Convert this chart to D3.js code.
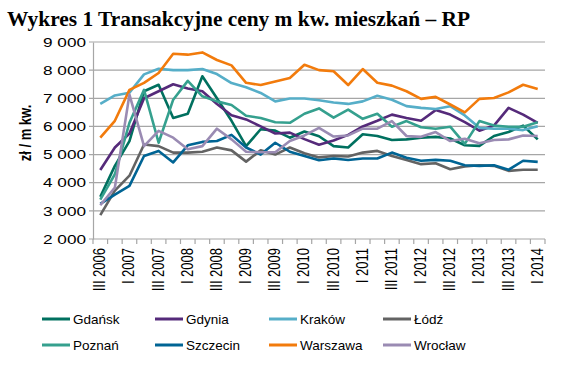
<!DOCTYPE html>
<html><head><meta charset="utf-8">
<script src="https://cdn.jsdelivr.net/npm/d3@7"></script>
<style>
body{margin:0;background:#fff;}
svg{display:block;}
</style>
</head><body>
<svg id="chart" width="571" height="365"></svg>
<script>
const title = "Wykres 1 Transakcyjne ceny m kw. mieszkań – RP";
const yAxisTitle = "zł / m kw.";
const categories = ["III 2006","IV 2006","I 2007","II 2007","III 2007","IV 2007","I 2008","II 2008","III 2008","IV 2008","I 2009","II 2009","III 2009","IV 2009","I 2010","II 2010","III 2010","IV 2010","I 2011","II 2011","III 2011","IV 2011","I 2012","II 2012","III 2012","IV 2012","I 2013","II 2013","III 2013","IV 2013","I 2014"];
const tickLabels = ["III 2006","I 2007","III 2007","I 2008","III 2008","I 2009","III 2009","I 2010","III 2010","I 2011","III 2011","I 2012","III 2012","I 2013","III 2013","I 2014"];
const yTicks = [2000,3000,4000,5000,6000,7000,8000,9000];

const cityNames = ["Gdańsk","Gdynia","Kraków","Łódź","Poznań","Szczecin","Warszawa","Wrocław"];
const cityColors = ["#00705F","#552A7A","#56AEC8","#636363","#35A08E","#006494","#F27B0C","#9A8BB3"];

const gdansk   = [3500,4600,5480,7250,7480,6300,6450,7780,7000,6200,5300,5900,5850,5600,5820,5650,5300,5250,5720,5660,5520,5540,5600,5630,5570,5330,5310,5660,5800,6030,5540];
const gdynia   = [4450,5250,5750,7000,7250,7500,7350,7250,6800,6400,6250,6000,5750,5780,5550,5350,5500,5700,6000,6200,6420,6300,6200,6580,6420,6150,5850,6030,6660,6420,6130];
const krakow   = [6800,7100,7200,7850,8050,8000,8000,8040,7860,7540,7390,7190,6890,6990,6990,6930,6850,6800,6890,7090,6950,6720,6660,6620,6720,6390,5950,5920,5920,5870,6010];
const lodz     = [2850,3720,4250,5360,5300,5070,5070,5100,5250,5150,4750,5150,5000,5250,5050,4900,4950,4930,5070,5130,4950,4810,4660,4690,4480,4580,4620,4600,4420,4460,4460];
const poznan   = [3400,4300,6130,7300,5420,6950,7620,7070,6890,6760,6380,6300,6150,6130,6450,6640,6310,6600,6270,6450,5990,6190,5970,5920,5990,5380,6190,6030,5990,5990,6150];
const szczecin = [3250,3580,3890,4950,5130,4720,5330,5450,5480,5700,5250,5000,5420,5100,4950,4800,4860,4810,4860,4860,5070,4890,4780,4810,4780,4620,4600,4620,4460,4780,4740];
const warszawa = [5600,6200,7300,7550,7900,8580,8550,8630,8360,8170,7550,7470,7600,7720,8190,8000,7960,7470,8040,7550,7450,7250,6980,7050,6780,6500,6980,7010,7210,7480,7330];
const wroclaw  = [3200,3830,7130,5300,5840,5600,5190,5300,5920,5540,5100,5080,5080,5480,5680,5950,5640,5680,5920,5920,6190,5660,5630,5800,5480,5560,5400,5520,5540,5680,5660];

const seriesValues = [gdansk,gdynia,krakow,lodz,poznan,szczecin,warszawa,wroclaw];
const series = cityNames.map((n,i)=>({name:n,color:cityColors[i],values:seriesValues[i]}));

const svg = d3.select("#chart");
const mLeft=93,mRight=545,mTop=42,mBottom=239;

const x = d3.scaleBand().domain(categories).range([mLeft,mRight]).paddingInner(0).paddingOuter(0);
const y = d3.scaleLinear().domain([2000,9000]).range([mBottom,mTop]);
const cx = c => x(c)+x.bandwidth()/2;

// title
svg.append("text").attr("x",7).attr("y",26)
  .attr("font-family","'Liberation Serif','DejaVu Serif',serif").attr("font-weight","bold")
  .attr("font-size",21).attr("fill","#000")
  .attr("textLength",463).attr("lengthAdjust","spacingAndGlyphs")
  .text(title);

// gridlines
svg.append("g").selectAll("line").data(yTicks).join("line")
  .attr("x1",mLeft-4).attr("x2",mRight).attr("y1",d=>y(d)).attr("y2",d=>y(d))
  .attr("stroke","#A6A6A6").attr("stroke-width",1.2);

// y axis
const yAxis = svg.append("g").attr("transform",`translate(${mLeft},0)`)
  .call(d3.axisLeft(y).tickValues(yTicks).tickSize(0).tickPadding(7)
    .tickFormat(d=>d3.format(",")(d).replace(",", " ")));
yAxis.select(".domain").attr("stroke","#A6A6A6").attr("stroke-width",1.2);
yAxis.selectAll("text").attr("font-family","Arial,'Liberation Sans',sans-serif")
  .attr("font-size",13).attr("fill","#000")
  .attr("textLength",43).attr("lengthAdjust","spacingAndGlyphs");

// x axis ticks at band edges
const edges = categories.map(c=>x(c)).concat([mRight]);
svg.append("g").selectAll("line").data(edges).join("line")
  .attr("x1",d=>d).attr("x2",d=>d).attr("y1",mBottom).attr("y2",mBottom+5)
  .attr("stroke","#A6A6A6").attr("stroke-width",1.2);

// x labels
svg.append("g").selectAll("text").data(tickLabels).join("text")
  .attr("transform",d=>`translate(${cx(d)+5},${mBottom+9}) rotate(-90) scale(1,1.3)`)
  .attr("text-anchor","end")
  .attr("font-family","Arial,'Liberation Sans',sans-serif").attr("font-size",13)
  .attr("fill","#000").text(d=>d);

// y axis title
svg.append("text").attr("transform",`translate(31,133) rotate(-90) scale(1,1.3)`)
  .attr("text-anchor","middle").attr("font-family","Arial,'Liberation Sans',sans-serif")
  .attr("font-weight","bold").attr("font-size",13).attr("fill","#000").text(yAxisTitle);

// lines
const line = d3.line().x((d,i)=>cx(categories[i])).y(d=>y(d));
svg.append("g").selectAll("path").data(series).join("path")
  .attr("d",d=>line(d.values)).attr("fill","none")
  .attr("stroke",d=>d.color).attr("stroke-width",2.6)
  .attr("stroke-linejoin","round");

// legend
const legX = [42,155,269,383];
const legY = [319,345];
const lg = svg.append("g").selectAll("g").data(series).join("g")
  .attr("transform",(d,i)=>`translate(${legX[i%4]},${legY[Math.floor(i/4)]})`);
lg.append("line").attr("x1",0).attr("x2",28).attr("y1",0).attr("y2",0)
  .attr("stroke",d=>d.color).attr("stroke-width",3);
lg.append("text").attr("x",31).attr("y",5)
  .attr("font-family","Arial,'Liberation Sans',sans-serif").attr("font-size",13.5)
  .attr("fill","#000").text(d=>d.name);
</script>
</body></html>
